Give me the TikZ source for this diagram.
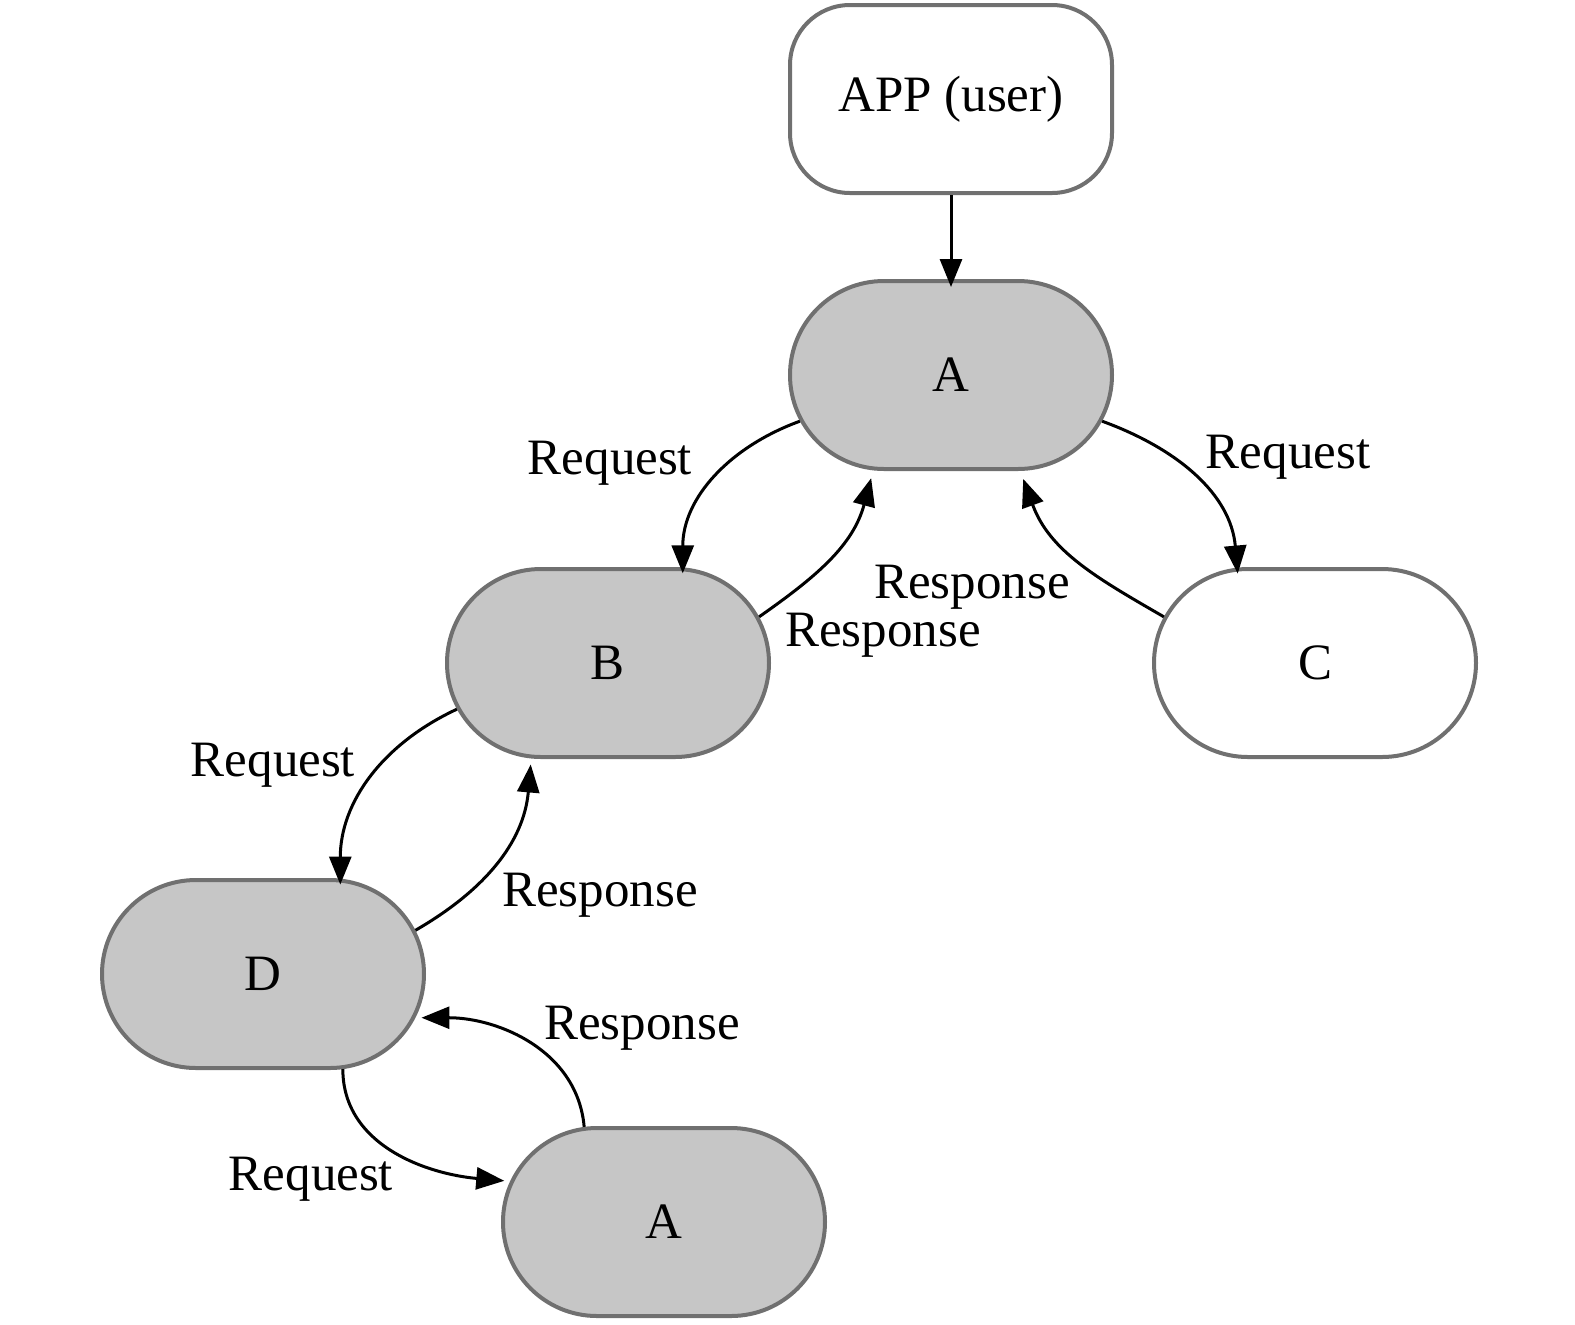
\documentclass[tikz,border=0pt]{standalone}
\usepackage{fontspec}
\setmainfont{Liberation Serif}
\usetikzlibrary{shapes.misc,arrows.meta}
\definecolor{bordergray}{HTML}{707070}
\definecolor{fillgray}{HTML}{C6C6C6}
\begin{document}
\begin{tikzpicture}[x=0.5pt,y=-0.5pt,
  every node/.style={font=\fontsize{25.5pt}{30pt}\selectfont},
  stadium/.style={rounded rectangle, draw=bordergray, line width=2pt,
    minimum width=161pt, minimum height=94pt, inner sep=0pt},
  graystad/.style={stadium, fill=fillgray},
  whitestad/.style={stadium, fill=white},
  appbox/.style={rectangle, rounded corners=30pt, draw=bordergray, line width=2pt,
    minimum width=161pt, minimum height=94pt, inner sep=0pt, fill=white},
  conn/.style={line width=1.5pt, -{Triangle[length=14pt,width=11pt]}},
  lbl/.style={inner sep=0pt}
]
\useasboundingbox (0,0) rectangle (1575,1324);

\node[appbox] (app) at (951,99) {APP (user)};
\node[graystad] (A) at (951,375) {A};
\node[graystad] (B) at (608,663) {B};
\node[whitestad] (C) at (1315,663) {C};
\node[graystad] (D) at (263,974) {D};
\node[graystad] (A2) at (664,1222) {A};

% connectors
\draw[conn] (app.south) -- ([yshift=-4pt]A.north);
\draw[conn] (A.197) to[out=200,in=90] ([yshift=-3pt]B.52);
\draw[conn] (B.17) to[out=35,in=255] ([yshift=-4pt]A.230);
\draw[conn] (A.343) to[out=340,in=95] ([yshift=-3pt]C.129);
\draw[conn] (C.163) to[out=150,in=290] ([yshift=-4pt]A.307);
\draw[conn] (B.197) to[out=205,in=90] ([yshift=-3pt]D.51);
\draw[conn] (D.16) to[out=30,in=265] ([yshift=-3pt]B.231);
\draw[conn] (D.310) to[out=270,in=175] ([xshift=-3pt]A2.165);
\draw[conn] (A2.130) to[out=95,in=0] ([xshift=3pt]D.344);

% labels
\node[lbl] (l1) at (610,463) {Request};
\node[lbl] (l2) at (1288,457) {Request};
\node[lbl] (l3) at (972,587) {Response};
\node[lbl] (l4) at (883,635) {Response};
\node[lbl] (l5) at (273,765) {Request};
\node[lbl] (l6) at (600,895) {Response};
\node[lbl] (l7) at (642,1028) {Response};
\node[lbl] (l8) at (311,1179) {Request};
\end{tikzpicture}
\end{document}
